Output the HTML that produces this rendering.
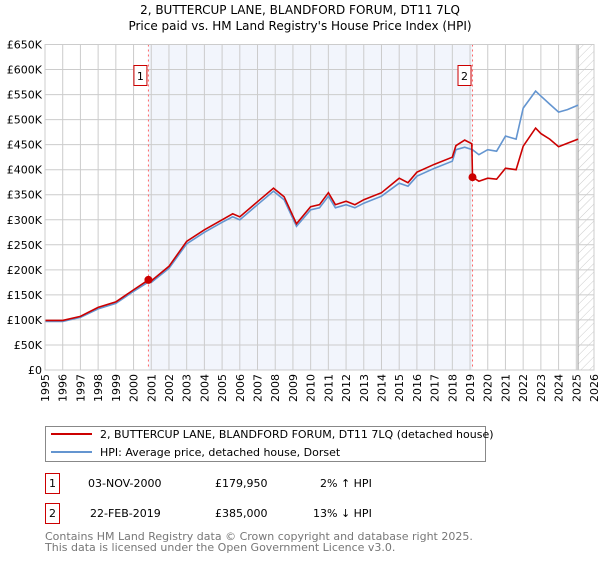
<!DOCTYPE html>
<html><head><meta charset="utf-8"><style>
body{margin:0;background:#fff;font-family:"Liberation Sans","DejaVu Sans",sans-serif;}
svg text{font-family:"DejaVu Sans","Liberation Sans",sans-serif;}
</style></head><body>
<svg id="c" width="600" height="560" viewBox="0 0 600 560" xmlns="http://www.w3.org/2000/svg">
<defs><pattern id="hatch" width="6" height="6" patternUnits="userSpaceOnUse" patternTransform="rotate(45)"><line x1="0" y1="0" x2="0" y2="6" stroke="#ccc" stroke-width="1"/></pattern></defs>
<text x="300" y="14" text-anchor="middle" font-size="12">2, BUTTERCUP LANE, BLANDFORD FORUM, DT11 7LQ</text>
<text x="300" y="30" text-anchor="middle" font-size="12">Price paid vs. HM Land Registry's House Price Index (HPI)</text>
<g id="plot"></g>
<g>
<rect x="45.5" y="426.5" width="440" height="35" fill="#fff" stroke="#888"/>
<line x1="51" y1="434" x2="92" y2="434" stroke="#cc0000" stroke-width="2"/>
<text x="100" y="438" font-size="11">2, BUTTERCUP LANE, BLANDFORD FORUM, DT11 7LQ (detached house)</text>
<line x1="51" y1="452" x2="92" y2="452" stroke="#6495d0" stroke-width="2"/>
<text x="100" y="456" font-size="11">HPI: Average price, detached house, Dorset</text>
</g>
<g font-size="11">
<rect x="45.5" y="473.5" width="14" height="20" fill="#fff" stroke="#cc0000"/>
<text x="52.5" y="487" text-anchor="middle">1</text>
<text x="88" y="487">03-NOV-2000</text><text x="215" y="487">£179,950</text><text x="320" y="487">2% ↑ HPI</text>
<rect x="45.5" y="503.5" width="14" height="20" fill="#fff" stroke="#cc0000"/>
<text x="52.5" y="517" text-anchor="middle">2</text>
<text x="90" y="517">22-FEB-2019</text><text x="215" y="517">£385,000</text><text x="313" y="517">13% ↓ HPI</text>
</g>
<text x="45" y="540" font-size="11" fill="#777">Contains HM Land Registry data © Crown copyright and database right 2025.</text>
<text x="45" y="551" font-size="11" fill="#777">This data is licensed under the Open Government Licence v3.0.</text>
</svg>
<script>
const hpiYears=[1995,1996,1997,1998,1999,2000,2000.84,2001,2002,2003,2004,2005,2005.6,2006,2007,2007.9,2008.5,2009.2,2010,2010.5,2011,2011.4,2012,2012.5,2013,2014,2015,2015.5,2016,2017,2018,2018.2,2018.7,2019.14,2019.5,2020,2020.5,2021,2021.6,2022,2022.7,2023,2023.5,2024,2024.5,2025.1];
const hpiValues=[97,97,105,122,133,157,176,175,203,252,275,295,306,300,330,357,340,287,320,324,347,324,330,324,333,347,373,367,387,403,417,440,445,440,430,440,437,467,461,523,557,547,531,515,520,529];
const propYears=[1995,1996,1997,1998,1999,2000,2000.84,2001,2002,2003,2004,2005,2005.6,2006,2007,2007.9,2008.5,2009.2,2010,2010.5,2011,2011.4,2012,2012.5,2013,2014,2015,2015.5,2016,2017,2018,2018.2,2018.7,2019.1,2019.14,2019.5,2020,2020.5,2021,2021.6,2022,2022.7,2023,2023.5,2024,2024.5,2025.1];
const propValues=[99,99,107,125,136,160,180,178,207,257,280,300,312,306,336,363,346,292,326,330,354,330,337,330,340,354,383,374,395,411,425,448,459,452,385,377,383,381,403,400,447,483,472,461,446,453,461];
const saleYears=[2000.84,2019.14];
const saleValues=[179.95,385];
const yTicks=[0,50,100,150,200,250,300,350,400,450,500,550,600,650];
const yTickLabels=["£0","£50K","£100K","£150K","£200K","£250K","£300K","£350K","£400K","£450K","£500K","£550K","£600K","£650K"];
const xTicks=[1995,1996,1997,1998,1999,2000,2001,2002,2003,2004,2005,2006,2007,2008,2009,2010,2011,2012,2013,2014,2015,2016,2017,2018,2019,2020,2021,2022,2023,2024,2025,2026];
const hatchStart=2025.1;

const L=45,R=594,T=44.5,B=370;
const xs=y=>L+(y-1995)/31*(R-L);
const ys=v=>B-v/650*(B-T);
const NS="http://www.w3.org/2000/svg";
const g=document.getElementById('plot');
function mk(t,a,p){const e=document.createElementNS(NS,t);for(const k in a)e.setAttribute(k,a[k]);(p||g).appendChild(e);return e;}
let e=mk('rect',{x:xs(saleYears[0]),y:T,width:xs(saleYears[1])-xs(saleYears[0]),height:B-T,fill:'#f2f5fc'});

e=mk('rect',{x:xs(hatchStart),y:T,width:R-xs(hatchStart),height:B-T,fill:'url(#hatch)'});

mk('line',{x1:xs(hatchStart),x2:xs(hatchStart),y1:T,y2:B,stroke:'#999','stroke-width':1});
yTicks.forEach((v,i)=>{
 const l=mk('line',{x1:L,x2:R,y1:ys(v),y2:ys(v),stroke:'#ccc','stroke-width':1});
 
 const t=mk('text',{x:L-3,y:ys(v)+4,'text-anchor':'end','font-size':11});t.textContent=yTickLabels[i];
 
});
xTicks.forEach(y=>{
 const l=mk('line',{x1:xs(y),x2:xs(y),y1:T,y2:B,stroke:'#ccc','stroke-width':1});
 
 const t=mk('text',{x:0,y:0,'text-anchor':'end','font-size':11,transform:`translate(${xs(y)+4},374) rotate(-90)`});t.textContent=y;
 
});
saleYears.forEach((y,i)=>{
 const l=mk('line',{x1:xs(y),x2:xs(y),y1:T,y2:B,stroke:'#ff6666','stroke-width':1,'stroke-dasharray':'2,3'});
 
 const r=mk('rect',{x:xs(y)-14.5,y:65.5,width:13,height:20,fill:'#fff',stroke:'#cc0000'});
 
 const t=mk('text',{x:xs(y)-8,y:80,'text-anchor':'middle','font-size':11});t.textContent=String(i+1);
 
});
const path=(X,V)=>X.map((y,i)=>(i?'L':'M')+xs(y).toFixed(1)+','+ys(V[i]).toFixed(1)).join('');
e=mk('path',{d:path(hpiYears,hpiValues),fill:'none',stroke:'#6495d0','stroke-width':1.6});

e=mk('path',{d:path(propYears,propValues),fill:'none',stroke:'#cc0000','stroke-width':1.6});

saleYears.forEach((y,i)=>{
 const c=mk('circle',{cx:xs(y),cy:ys(saleValues[i]),r:4,fill:'#cc0000'});
 
});
e=mk('rect',{x:L,y:T,width:R-L,height:B-T,fill:'none',stroke:'#ccc'});

</script>
</body></html>
